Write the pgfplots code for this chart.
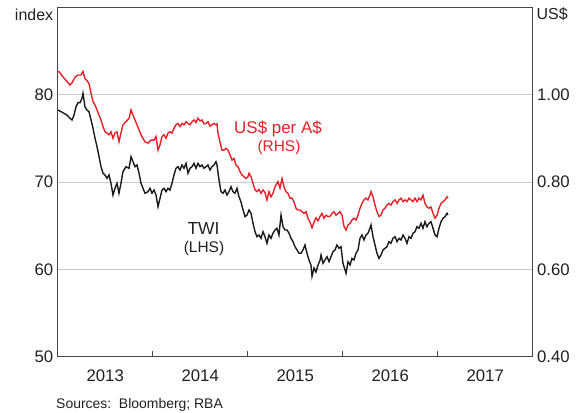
\documentclass[border=0pt]{standalone}
\usepackage{pgfplots}
\pgfplotsset{compat=1.18}
\usepackage{fontspec}
\setmainfont{Liberation Sans}
\definecolor{rbared}{RGB}{228,32,40}
\definecolor{txt}{RGB}{35,31,32}
\definecolor{frame}{RGB}{70,70,70}
\definecolor{gridc}{RGB}{200,200,200}
\begin{document}
\begin{tikzpicture}
\path[use as bounding box] (0,0) rectangle (581bp,413bp);
\begin{axis}[
  at={(57.7bp,56.3bp)}, anchor=south west,
  scale only axis, width=475bp, height=349.4bp,
  xmin=2013, xmax=2018, ymin=50, ymax=90,
  axis line style={frame, line width=0.9pt},
  xtick={2014,2015,2016,2017}, xticklabels={},
  xtick pos=bottom, tick align=inside,
  x tick style={frame, line width=0.8pt}, major tick length=6bp,
  extra x ticks={2013.5,2014.5,2015.5,2016.5,2017.5},
  extra x tick labels={2013,2014,2015,2016,2017},
  extra x tick style={major tick length=0pt, grid=none},
  xticklabel style={font=\fontsize{16.8}{18}\selectfont, text=txt, inner sep=0pt, yshift=-12.5bp},
  ytick={50,60,70,80}, ytick pos=left, y tick style={draw=none},
  yticklabel style={font=\fontsize{16.8}{18}\selectfont, text=txt, inner sep=0pt, xshift=-4.2bp},
  ymajorgrids, grid style={gridc, line width=0.8pt},
  /pgf/number format/assume math mode=true,
]
\addplot[black!90, line width=1.4pt] coordinates {
(2013.003,78.24)(2013.035,78.05)(2013.066,77.86)(2013.098,77.67)(2013.129,77.29)(2013.151,77.10)
(2013.172,77.67)(2013.193,78.62)(2013.214,79.08)(2013.235,79.08)(2013.256,79.58)(2013.266,80.15)
(2013.287,78.62)(2013.308,78.24)(2013.329,78.05)(2013.351,77.10)(2013.372,76.15)(2013.393,75.00)
(2013.414,74.04)(2013.435,72.90)(2013.456,71.75)(2013.477,71.00)(2013.498,70.80)(2013.519,70.42)
(2013.540,70.80)(2013.561,69.85)(2013.582,68.51)(2013.603,69.28)(2013.624,69.85)(2013.645,68.71)
(2013.666,69.85)(2013.687,71.18)(2013.719,71.75)(2013.751,71.57)(2013.772,72.90)(2013.793,72.32)
(2013.814,71.75)(2013.835,71.95)(2013.856,71.00)(2013.877,69.85)(2013.898,69.28)(2013.919,68.71)
(2013.951,68.89)(2013.972,69.28)(2013.993,68.71)(2014.014,69.08)(2014.035,68.51)(2014.056,67.17)
(2014.077,68.13)(2014.098,69.08)(2014.119,69.28)(2014.140,68.89)(2014.161,69.28)(2014.182,69.08)
(2014.203,69.85)(2014.224,70.80)(2014.245,71.57)(2014.266,71.75)(2014.287,71.37)(2014.308,71.95)
(2014.329,71.57)(2014.351,72.14)(2014.372,71.00)(2014.393,71.57)(2014.414,71.75)(2014.435,72.14)
(2014.456,71.57)(2014.477,72.14)(2014.498,71.75)(2014.519,71.95)(2014.540,71.57)(2014.561,71.75)
(2014.582,71.95)(2014.603,71.37)(2014.624,71.75)(2014.645,71.95)(2014.666,72.32)(2014.677,71.95)
(2014.698,70.23)(2014.719,68.89)(2014.740,68.71)(2014.761,69.08)(2014.782,68.51)(2014.803,68.89)
(2014.824,69.46)(2014.845,68.89)(2014.866,68.71)(2014.887,69.28)(2014.908,68.32)(2014.929,67.74)
(2014.951,66.79)(2014.972,66.03)(2014.993,66.22)(2015.014,66.79)(2015.035,66.42)(2015.056,65.27)
(2015.077,64.31)(2015.098,63.74)(2015.119,63.93)(2015.140,63.55)(2015.161,64.31)(2015.182,63.74)
(2015.203,62.98)(2015.224,63.93)(2015.245,63.55)(2015.266,64.13)(2015.287,64.50)(2015.308,64.70)
(2015.329,63.93)(2015.351,66.22)(2015.372,64.88)(2015.393,64.50)(2015.414,64.50)(2015.435,64.13)
(2015.456,63.55)(2015.477,63.17)(2015.498,62.59)(2015.519,62.22)(2015.540,61.84)(2015.561,61.84)
(2015.582,62.22)(2015.603,62.79)(2015.624,61.84)(2015.645,61.07)(2015.666,60.50)(2015.677,59.20)
(2015.698,60.15)(2015.719,59.70)(2015.740,60.50)(2015.761,61.00)(2015.772,61.64)(2015.793,60.69)
(2015.814,61.07)(2015.835,61.45)(2015.856,60.88)(2015.877,61.45)(2015.898,62.02)(2015.919,62.22)
(2015.940,62.79)(2015.961,62.41)(2015.982,62.59)(2016.003,60.69)(2016.014,60.30)(2016.035,59.55)
(2016.056,60.88)(2016.077,60.50)(2016.098,61.26)(2016.119,61.07)(2016.140,61.84)(2016.161,62.22)
(2016.182,63.55)(2016.203,63.93)(2016.224,63.36)(2016.245,63.93)(2016.266,64.13)(2016.287,64.70)
(2016.298,65.08)(2016.319,63.74)(2016.340,62.79)(2016.361,61.84)(2016.382,61.26)(2016.403,61.64)
(2016.424,62.22)(2016.445,62.41)(2016.466,62.59)(2016.487,63.17)(2016.508,62.98)(2016.529,63.55)
(2016.551,63.74)(2016.572,63.17)(2016.593,63.55)(2016.614,63.36)(2016.635,63.93)(2016.656,63.55)
(2016.677,62.98)(2016.698,63.74)(2016.719,63.55)(2016.740,64.13)(2016.761,64.31)(2016.782,64.88)
(2016.803,64.70)(2016.824,65.27)(2016.845,64.70)(2016.866,65.46)(2016.887,64.88)(2016.908,65.27)
(2016.929,65.46)(2016.951,64.70)(2016.972,63.93)(2016.993,63.74)(2017.014,64.70)(2017.035,65.46)
(2017.056,65.84)(2017.077,66.03)(2017.098,66.42)(2017.108,66.22)
};
\end{axis}
\begin{axis}[
  at={(57.7bp,56.3bp)}, anchor=south west,
  scale only axis, width=475bp, height=349.4bp,
  xmin=2013, xmax=2018, ymin=0.4, ymax=1.2,
  axis x line=none, axis y line*=right,
  axis line style={frame, line width=0.9pt},
  ytick={0.4,0.6,0.8,1.0}, y tick style={draw=none},
  yticklabel style={font=\fontsize{16.8}{18}\selectfont, text=txt, inner sep=0pt, xshift=4.2bp,
    /pgf/number format/.cd, fixed, fixed zerofill, precision=2},
  /pgf/number format/assume math mode=true,
]
\addplot[rbared, line width=1.4pt] coordinates {
(2013.003,1.054)(2013.024,1.050)(2013.066,1.038)(2013.098,1.030)(2013.129,1.022)(2013.151,1.027)
(2013.182,1.040)(2013.214,1.045)(2013.245,1.045)(2013.266,1.053)(2013.287,1.037)(2013.308,1.032)
(2013.329,1.026)(2013.351,1.003)(2013.372,0.984)(2013.393,0.976)(2013.414,0.965)(2013.435,0.953)
(2013.456,0.942)(2013.477,0.927)(2013.498,0.915)(2013.519,0.912)(2013.540,0.908)(2013.561,0.915)
(2013.582,0.900)(2013.603,0.912)(2013.624,0.915)(2013.645,0.892)(2013.666,0.912)(2013.687,0.931)
(2013.719,0.938)(2013.751,0.946)(2013.772,0.965)(2013.793,0.953)(2013.814,0.942)(2013.835,0.931)
(2013.856,0.919)(2013.877,0.908)(2013.898,0.900)(2013.919,0.892)(2013.951,0.889)(2013.982,0.896)
(2014.014,0.896)(2014.035,0.904)(2014.056,0.873)(2014.077,0.885)(2014.098,0.904)(2014.119,0.908)
(2014.140,0.900)(2014.161,0.912)(2014.182,0.915)(2014.203,0.912)(2014.224,0.923)(2014.245,0.931)
(2014.266,0.934)(2014.287,0.927)(2014.308,0.934)(2014.329,0.931)(2014.351,0.938)(2014.372,0.934)
(2014.393,0.931)(2014.414,0.938)(2014.435,0.942)(2014.456,0.936)(2014.477,0.946)(2014.498,0.940)
(2014.519,0.942)(2014.540,0.933)(2014.561,0.934)(2014.582,0.938)(2014.603,0.928)(2014.624,0.931)
(2014.645,0.934)(2014.666,0.931)(2014.677,0.933)(2014.687,0.912)(2014.708,0.892)(2014.729,0.873)
(2014.751,0.873)(2014.772,0.877)(2014.793,0.873)(2014.814,0.862)(2014.835,0.850)(2014.856,0.854)
(2014.877,0.839)(2014.898,0.835)(2014.919,0.824)(2014.940,0.816)(2014.961,0.812)(2014.982,0.808)
(2015.003,0.812)(2015.014,0.820)(2015.035,0.812)(2015.056,0.797)(2015.077,0.782)(2015.098,0.778)
(2015.119,0.783)(2015.140,0.774)(2015.161,0.782)(2015.182,0.776)(2015.203,0.759)(2015.224,0.778)
(2015.245,0.766)(2015.266,0.774)(2015.287,0.789)(2015.319,0.801)(2015.340,0.786)(2015.361,0.808)
(2015.382,0.789)(2015.403,0.778)(2015.424,0.774)(2015.445,0.763)(2015.466,0.763)(2015.487,0.755)
(2015.508,0.740)(2015.529,0.736)(2015.551,0.736)(2015.572,0.732)(2015.593,0.728)(2015.614,0.732)
(2015.635,0.717)(2015.656,0.708)(2015.677,0.695)(2015.698,0.708)(2015.719,0.718)(2015.740,0.711)
(2015.761,0.721)(2015.782,0.728)(2015.803,0.717)(2015.824,0.724)(2015.845,0.721)(2015.866,0.721)
(2015.887,0.728)(2015.908,0.732)(2015.929,0.724)(2015.951,0.728)(2015.972,0.732)(2015.993,0.724)
(2016.014,0.698)(2016.035,0.690)(2016.056,0.702)(2016.077,0.705)(2016.098,0.713)(2016.119,0.717)
(2016.140,0.713)(2016.161,0.724)(2016.182,0.740)(2016.203,0.751)(2016.224,0.759)(2016.245,0.763)
(2016.266,0.759)(2016.287,0.770)(2016.298,0.778)(2016.319,0.766)(2016.340,0.747)(2016.361,0.732)
(2016.382,0.721)(2016.403,0.724)(2016.424,0.736)(2016.445,0.740)(2016.466,0.747)(2016.487,0.751)
(2016.508,0.747)(2016.529,0.755)(2016.551,0.759)(2016.572,0.751)(2016.593,0.759)(2016.614,0.763)
(2016.635,0.755)(2016.656,0.759)(2016.677,0.755)(2016.698,0.763)(2016.719,0.759)(2016.740,0.755)
(2016.761,0.763)(2016.782,0.755)(2016.803,0.763)(2016.824,0.759)(2016.845,0.770)(2016.866,0.751)
(2016.887,0.743)(2016.908,0.740)(2016.929,0.743)(2016.951,0.728)(2016.972,0.717)(2016.993,0.724)
(2017.014,0.740)(2017.035,0.751)(2017.056,0.755)(2017.077,0.759)(2017.098,0.766)(2017.108,0.763)
};
\end{axis}
\node[anchor=base east, inner sep=0pt, text=txt, font=\fontsize{16}{18}\selectfont] at (53.3bp,392.3bp) {index};
\node[anchor=base west, inner sep=0pt, text=txt, font=\fontsize{16}{18}\selectfont] at (536.5bp,393bp) {US\$};
\node[text=rbared, inner sep=0pt, font=\fontsize{17}{19}\selectfont] at (278bp,284.5bp) {US\$ per A\$};
\node[text=rbared, inner sep=0pt, font=\fontsize{15.5}{17}\selectfont] at (279bp,265bp) {(RHS)};
\node[text=txt, inner sep=0pt, font=\fontsize{17.5}{19}\selectfont] at (203.5bp,184bp) {TWI};
\node[text=txt, inner sep=0pt, font=\fontsize{15.5}{17}\selectfont] at (204bp,164bp) {(LHS)};
\node[anchor=base west, inner sep=0pt, text=txt, font=\fontsize{14}{16}\selectfont] at (56bp,4.7bp) {Sources:\ \ Bloomberg; RBA};
\end{tikzpicture}
\end{document}
